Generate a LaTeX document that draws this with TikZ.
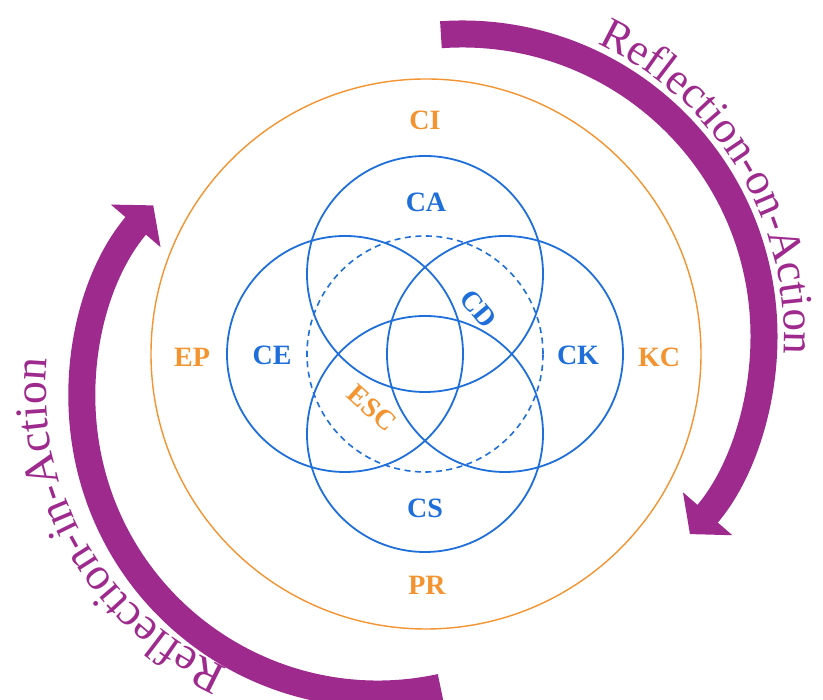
\documentclass[tikz,border=0pt]{standalone}
\usepackage{fontspec}
\setmainfont{Liberation Serif}
\usetikzlibrary{arrows.meta, calc, decorations.text}
\definecolor{reflect}{HTML}{9E2A8E}
\definecolor{core}{HTML}{1F6FDB}
\definecolor{outer}{HTML}{F39431}

\begin{document}
\begin{tikzpicture}[
    x=1pt, y=1pt,
    ring/.style={draw=core, line width=1.8pt},
    dashring/.style={draw=core, line width=1.6pt, dash pattern=on 6pt off 4.5pt},
    outerring/.style={draw=outer, line width=1.4pt},
    inlabel/.style={font=\fontsize{28}{28}\selectfont\bfseries, text=core, inner sep=0pt},
    outlabel/.style={font=\fontsize{28}{28}\selectfont\bfseries, text=outer, inner sep=0pt},
    loopband/.style={draw=reflect, line width=27pt, -{Triangle[length=27pt, width=64pt]}},
]

\useasboundingbox (0,0) rectangle (823,700);

% ============================================================
% Centres
% ============================================================
\coordinate (O) at (425,346);
\coordinate (ca-c) at (425,426);
\coordinate (ce-c) at (345,346);
\coordinate (ck-c) at (505,346);
\coordinate (cs-c) at (425,266);
\coordinate (on-c) at (462,364);
\coordinate (in-c) at (378,302);
\coordinate (in-t) at (350,310);

% ============================================================
% Circles
% ============================================================
\draw[outerring] (426,346) circle[radius=275];
\draw[dashring] (O) circle[radius=118];
\draw[ring] (ca-c) circle[radius=118];
\draw[ring] (ce-c) circle[radius=118];
\draw[ring] (ck-c) circle[radius=118];
\draw[ring] (cs-c) circle[radius=118];

% Labels
\node[outlabel] (ci) at (425,580) {CI};
\node[outlabel] (ep) at (192,343) {EP};
\node[outlabel] (kc) at (659,343) {KC};
\node[outlabel] (pr) at (427,115) {PR};
\node[inlabel] (ca) at (426,498) {CA};
\node[inlabel] (ce) at (272,345) {CE};
\node[inlabel] (ck) at (578,345) {CK};
\node[inlabel] (cs) at (425,192) {CS};
\node[inlabel, rotate=-50] (cd) at (478,391) {CD};
\node[outlabel, rotate=-42] (esc) at (372,292) {ESC};

% ============================================================
% Reflection arrows
% ============================================================
\draw[loopband] ($(on-c)+(94:302)$) arc[start angle=94, end angle=-41, radius=302];
\draw[loopband] ($(in-c)+(-77.8:296)$) arc[start angle=-77.8, end angle=-220.6, radius=296];

\path[decorate, decoration={text along path, text color=reflect, text align=center,
      text={|\fontsize{45}{45}\selectfont|Reflection-on-Action}}]
    ($(on-c)+(66:322)$) arc[start angle=66, end angle=-4, radius=322];
\path[decorate, decoration={text along path, text color=reflect, text align=center,
      text={|\fontsize{46}{46}\selectfont|Reflection-in-Action}}]
    ($(in-t)+(-113:304)$) arc[start angle=-113, end angle=-186.5, radius=304];

\end{tikzpicture}
\end{document}
